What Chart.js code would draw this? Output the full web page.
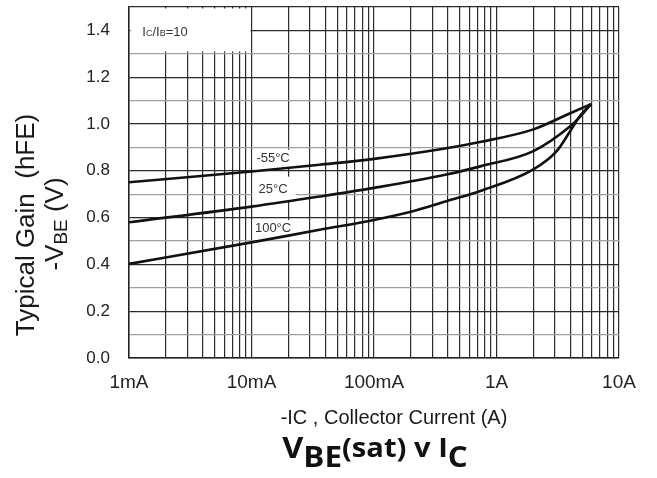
<!DOCTYPE html>
<html>
<head>
<meta charset="utf-8">
<script src="https://cdn.jsdelivr.net/npm/chart.js@4.4.0/dist/chart.umd.min.js"></script>
<style>
  html, body { margin: 0; padding: 0; background: #fff; }
  #wrap { width: 657px; height: 478px; }
</style>
</head>
<body>
<div id="wrap"><canvas id="vbePlot"></canvas></div>
<script>
// -VBE(sat) vs collector current (A, V)
const seriesLabels = ['-55°C', '25°C', '100°C'];

const m55Current = [0.001, 0.01, 0.036, 0.1, 0.39, 0.75, 2, 4, 5.9];
const m55Vbe     = [0.751, 0.797, 0.826, 0.851, 0.896, 0.924, 0.977, 1.046, 1.085];

const p25Current = [0.001, 0.01, 0.036, 0.1, 0.39, 0.75, 2, 4, 4.8, 5.9];
const p25Vbe     = [0.58, 0.647, 0.69, 0.727, 0.784, 0.82, 0.884, 0.99, 1.03, 1.085];

const p100Current = [0.001, 0.01, 0.036, 0.1, 0.2, 0.39, 0.75, 2, 3.1, 4, 4.8, 5.9];
const p100Vbe     = [0.402, 0.494, 0.548, 0.59, 0.625, 0.67, 0.715, 0.806, 0.884, 0.97, 1.034, 1.085];

const xTickValues = [0.001, 0.01, 0.1, 1, 10];
const xTickLabels = ['1mA', '10mA', '100mA', '1A', '10A'];
const yTickLabels = ['0.0', '0.2', '0.4', '0.6', '0.8', '1.0', '1.2', '1.4'];

function toPoints(xs, ys) {
    return xs.map((v, i) => ({ x: v, y: ys[i] }));
}

// gridlines at 1..9 of every decade
const xGrid = [];
for (let d = 0; d < xTickValues.length - 1; d++) {
    for (let m = 1; m < 10; m++) xGrid.push(m * xTickValues[d]);
}
xGrid.push(xTickValues[xTickValues.length - 1]);

// draw a run of text pieces (for subscripts), centred on x
function drawParts(ctx, parts, x, y) {
    let w = 0;
    parts.forEach(p => { ctx.font = p.font; w += ctx.measureText(p.t).width; });
    let cx = x - w / 2;
    parts.forEach(p => {
        ctx.font = p.font;
        ctx.fillText(p.t, cx, y + (p.dy || 0));
        cx += ctx.measureText(p.t).width;
    });
}

const annotate = {
    id: 'annotate',
    beforeDatasetsDraw(chart) {
        const { ctx, chartArea: a } = chart;
        const x = chart.scales.x, y = chart.scales.y;
        ctx.save();
        ctx.fillStyle = '#fff';
        // IC/IB box, top left
        const x10m = x.getPixelForValue(0.01);
        ctx.fillRect(a.left + 1.5, a.top + 1.5, x10m - a.left - 2.5, y.getPixelForValue(1.31) - a.top - 1.5);
        // boxes behind the curve names
        const boxes = [[0.813, 0.89], [0.668, 0.775], [0.505, 0.59]];
        boxes.forEach(b => {
            const top = y.getPixelForValue(b[1]), bot = y.getPixelForValue(b[0]);
            ctx.fillRect(x10m + 1, top, x.getPixelForValue(0.023) - x10m - 1, bot - top);
        });

        ctx.fillStyle = '#333';
        ctx.textBaseline = 'middle';
        ctx.textAlign = 'left';
        const sm = '400 9px "Liberation Sans"', nm = '400 13px "Liberation Sans"';
        drawParts(ctx, [
            { t: 'I', font: nm }, { t: 'C', font: sm, dy: 1 }, { t: '/I', font: nm },
            { t: 'B', font: sm, dy: 1 }, { t: '=10', font: nm }
        ], a.left + 36, y.getPixelForValue(1.39));

        const labelY = [0.852, 0.72, 0.552];
        ctx.font = '400 13px "Liberation Sans"';
        ctx.textAlign = 'center';
        seriesLabels.forEach((s, i) => {
            ctx.fillText(s, x.getPixelForValue(0.015), y.getPixelForValue(labelY[i]));
        });
        ctx.restore();
    },
    afterDraw(chart) {
        const { ctx } = chart;
        ctx.save();
        ctx.fillStyle = '#1a1a1a';
        ctx.textAlign = 'left';
        ctx.textBaseline = 'middle';

        // y axis titles, rotated
        ctx.save();
        ctx.translate(27, 225);
        ctx.rotate(-Math.PI / 2);
        drawParts(ctx, [{ t: 'Typical Gain  (hFE)', font: '400 26px "Liberation Sans"' }], 0, 0);
        ctx.restore();

        ctx.save();
        ctx.translate(56, 224);
        ctx.rotate(-Math.PI / 2);
        drawParts(ctx, [
            { t: '-V', font: '400 26px "Liberation Sans"' },
            { t: 'BE', font: '400 19px "Liberation Sans"', dy: 6 },
            { t: ' (V)', font: '400 26px "Liberation Sans"' }
        ], 0, 0);
        ctx.restore();

        // x axis title
        drawParts(ctx, [{ t: '-IC , Collector Current (A)', font: '400 20px "Liberation Sans"' }], 394, 418);

        // chart title, a little stretched like the scan
        ctx.fillStyle = '#111';
        ctx.save();
        ctx.translate(375, 450);
        ctx.scale(1.12, 1);
        drawParts(ctx, [
            { t: 'V', font: '700 29px "Open Sans"' },
            { t: 'BE', font: '700 28px "Open Sans"', dy: 9 },
            { t: '(sat) v I', font: '700 26px "Open Sans"' },
            { t: 'C', font: '700 28px "Open Sans"', dy: 9 }
        ], 0, 0);
        ctx.restore();
        ctx.restore();
    }
};

const lineStyle = {
    borderColor: '#111',
    borderWidth: 2.6,
    pointRadius: 0,
    showLine: true,
    fill: false,
    cubicInterpolationMode: 'monotone'
};

new Chart(document.getElementById('vbePlot').getContext('2d'), {
    type: 'scatter',
    data: {
        datasets: [
            Object.assign({ label: seriesLabels[0], data: toPoints(m55Current, m55Vbe) }, lineStyle),
            Object.assign({ label: seriesLabels[1], data: toPoints(p25Current, p25Vbe) }, lineStyle),
            Object.assign({ label: seriesLabels[2], data: toPoints(p100Current, p100Vbe) }, lineStyle)
        ]
    },
    options: {
        responsive: true,
        maintainAspectRatio: false,
        animation: false,
        layout: { padding: { left: 0, top: 7, right: 38, bottom: 0 } },
        plugins: {
            legend: { display: false },
            title: { display: false },
            tooltip: { enabled: false }
        },
        scales: {
            x: {
                type: 'logarithmic',
                min: 0.001,
                max: 10,
                afterBuildTicks: (axis) => { axis.ticks = xGrid.map(v => ({ value: v })); },
                afterFit: (axis) => {
                    axis.height = 120;
                    axis.paddingLeft = 0;
                    axis.paddingRight = 0;
                },
                grid: { color: '#2b2b2b', lineWidth: 1.2, drawTicks: false },
                border: { color: '#222', width: 1.5 },
                ticks: {
                    autoSkip: false,
                    maxRotation: 0,
                    padding: 13,
                    color: '#222',
                    font: { family: 'Liberation Sans', size: 19 },
                    callback: (value) => {
                        const i = xTickValues.findIndex(t => Math.abs(t - value) / t < 1e-6);
                        return i >= 0 ? xTickLabels[i] : '';
                    }
                }
            },
            y: {
                min: 0,
                max: 1.5,
                afterFit: (axis) => {
                    axis.width = 129;
                    axis.paddingTop = 0;
                    axis.paddingBottom = 0;
                },
                grid: {
                    drawTicks: false,
                    lineWidth: 1.2,
                    color: (c) => {
                        const k = Math.round(c.tick.value * 10);
                        return (k % 2 === 0 || k === 15) ? '#2b2b2b' : '#a0a0a0';
                    }
                },
                border: { color: '#222', width: 1.5 },
                ticks: {
                    stepSize: 0.1,
                    autoSkip: false,
                    padding: 19,
                    color: '#222',
                    font: { family: 'Liberation Sans', size: 17 },
                    callback: (value) => {
                        const k = Math.round(value * 10);
                        return (k % 2 === 0 && k <= 14) ? yTickLabels[k / 2] : '';
                    }
                }
            }
        }
    },
    plugins: [annotate]
});
</script>
</body>
</html>
